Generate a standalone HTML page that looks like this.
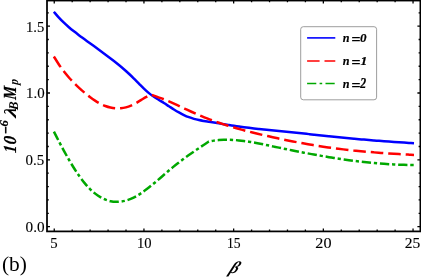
<!DOCTYPE html>
<html><head><meta charset="utf-8"><title>plot</title>
<style>
html,body{margin:0;padding:0;background:#fff;}
body{width:421px;height:278px;overflow:hidden;}
svg{display:block;font-family:"Liberation Serif",serif;will-change:transform;}
</style></head><body>
<svg width="421" height="278" viewBox="0 0 421 278">
<rect width="421" height="278" fill="#fff"/>
<g fill="none" stroke-width="2.5" stroke-linecap="butt" stroke-linejoin="round">
<path d="M53.90 11.80 C54.73 12.77 57.23 15.80 58.90 17.62 C60.57 19.44 62.24 21.11 63.90 22.71 C65.57 24.32 67.24 25.79 68.90 27.23 C70.57 28.66 72.24 30.00 73.91 31.31 C75.57 32.63 77.24 33.88 78.91 35.13 C80.57 36.38 82.24 37.60 83.91 38.83 C85.58 40.05 87.24 41.26 88.91 42.47 C90.58 43.68 92.24 44.88 93.91 46.09 C95.58 47.30 97.25 48.51 98.91 49.73 C100.58 50.95 102.25 52.17 103.91 53.41 C105.58 54.65 107.25 55.90 108.92 57.17 C110.58 58.44 112.25 59.73 113.92 61.04 C115.58 62.36 117.25 63.70 118.92 65.07 C120.59 66.45 122.25 67.85 123.92 69.30 C125.59 70.75 127.25 72.23 128.92 73.77 C130.59 75.31 132.26 76.89 133.92 78.52 C135.59 80.15 137.26 81.89 138.92 83.56 C140.59 85.24 142.26 86.99 143.93 88.58 C145.59 90.18 147.26 91.76 148.93 93.13 C150.59 94.51 152.26 95.70 153.93 96.84 C155.59 97.97 157.26 98.92 158.93 99.95 C160.60 100.98 162.26 101.97 163.93 103.02 C165.60 104.07 167.26 105.18 168.93 106.26 C170.60 107.33 172.27 108.44 173.93 109.47 C175.60 110.50 177.27 111.51 178.93 112.44 C180.60 113.37 182.27 114.25 183.94 115.04 C185.60 115.84 187.27 116.57 188.94 117.20 C190.60 117.84 192.27 118.37 193.94 118.85 C195.61 119.33 197.27 119.72 198.94 120.08 C200.61 120.44 202.27 120.72 203.94 121.01 C205.61 121.30 207.28 121.54 208.94 121.80 C210.61 122.07 212.28 122.32 213.94 122.58 C215.61 122.84 217.28 123.11 218.95 123.38 C220.61 123.64 222.28 123.91 223.95 124.18 C225.61 124.44 227.28 124.71 228.95 124.97 C230.62 125.23 232.28 125.49 233.95 125.74 C235.62 125.99 237.28 126.24 238.95 126.48 C240.62 126.72 242.29 126.95 243.95 127.17 C245.62 127.39 247.29 127.61 248.95 127.81 C250.62 128.02 252.29 128.22 253.96 128.42 C255.62 128.62 257.29 128.81 258.96 128.99 C260.62 129.18 262.29 129.36 263.96 129.54 C265.63 129.72 267.29 129.89 268.96 130.06 C270.63 130.23 272.29 130.40 273.96 130.57 C275.63 130.74 277.30 130.90 278.96 131.07 C280.63 131.24 282.30 131.40 283.96 131.57 C285.63 131.73 287.30 131.90 288.97 132.06 C290.63 132.23 292.30 132.40 293.97 132.57 C295.63 132.74 297.30 132.91 298.97 133.08 C300.64 133.26 302.30 133.43 303.97 133.60 C305.64 133.78 307.30 133.95 308.97 134.13 C310.64 134.30 312.31 134.48 313.97 134.66 C315.64 134.83 317.31 135.01 318.97 135.18 C320.64 135.36 322.31 135.53 323.98 135.71 C325.64 135.88 327.31 136.06 328.98 136.23 C330.64 136.40 332.31 136.57 333.98 136.74 C335.64 136.91 337.31 137.08 338.98 137.25 C340.65 137.42 342.31 137.58 343.98 137.75 C345.65 137.91 347.31 138.07 348.98 138.23 C350.65 138.39 352.32 138.55 353.98 138.70 C355.65 138.85 357.32 139.01 358.98 139.16 C360.65 139.31 362.32 139.45 363.99 139.60 C365.65 139.74 367.32 139.88 368.99 140.02 C370.65 140.16 372.32 140.30 373.99 140.43 C375.66 140.57 377.32 140.70 378.99 140.83 C380.66 140.96 382.32 141.09 383.99 141.21 C385.66 141.34 387.33 141.46 388.99 141.58 C390.66 141.70 392.33 141.82 393.99 141.93 C395.66 142.05 397.33 142.16 399.00 142.27 C400.66 142.38 402.33 142.49 404.00 142.59 C405.66 142.70 407.33 142.80 409.00 142.90 C410.67 143.00 413.17 143.15 414.00 143.20" stroke="#0000ff"/>
<path d="M53.90 56.50 C54.76 57.87 57.33 62.18 59.04 64.73 C60.76 67.28 62.47 69.61 64.18 71.82 C65.90 74.03 67.61 76.04 69.33 77.97 C71.04 79.90 72.75 81.68 74.47 83.40 C76.18 85.12 77.90 86.73 79.61 88.30 C81.32 89.87 83.04 91.39 84.75 92.84 C86.47 94.29 88.18 95.69 89.89 96.98 C91.61 98.28 93.32 99.51 95.04 100.63 C96.75 101.74 98.46 102.77 100.18 103.67 C101.89 104.57 103.61 105.36 105.32 106.01 C107.04 106.66 108.75 107.19 110.46 107.58 C112.18 107.97 113.89 108.24 115.61 108.36 C117.32 108.48 119.03 108.47 120.75 108.31 C122.46 108.15 124.18 107.86 125.89 107.41 C127.60 106.96 129.32 106.37 131.03 105.63 C132.75 104.90 134.46 103.96 136.17 103.00 C137.89 102.04 139.60 100.89 141.32 99.87 C143.03 98.85 144.74 97.71 146.46 96.88 C148.17 96.04 150.74 95.22 151.60 94.89 C152.44 95.18 154.96 95.97 156.65 96.56 C158.33 97.15 160.01 97.78 161.69 98.44 C163.37 99.09 165.06 99.79 166.74 100.49 C168.42 101.20 170.10 101.94 171.78 102.69 C173.47 103.44 175.15 104.21 176.83 104.98 C178.51 105.75 180.19 106.54 181.88 107.32 C183.56 108.10 185.24 108.89 186.92 109.67 C188.61 110.45 190.29 111.24 191.97 112.00 C193.65 112.77 195.33 113.53 197.02 114.26 C198.70 115.00 200.38 115.73 202.06 116.43 C203.74 117.13 205.43 117.80 207.11 118.46 C208.79 119.12 210.47 119.76 212.15 120.38 C213.84 121.01 215.52 121.61 217.20 122.20 C218.88 122.78 220.56 123.35 222.25 123.91 C223.93 124.46 225.61 125.00 227.29 125.53 C228.97 126.05 230.66 126.56 232.34 127.06 C234.02 127.56 235.70 128.04 237.38 128.52 C239.07 128.99 240.75 129.45 242.43 129.90 C244.11 130.36 245.79 130.80 247.48 131.23 C249.16 131.66 250.84 132.09 252.52 132.51 C254.21 132.92 255.89 133.33 257.57 133.74 C259.25 134.14 260.93 134.54 262.62 134.93 C264.30 135.32 265.98 135.71 267.66 136.09 C269.34 136.48 271.03 136.85 272.71 137.23 C274.39 137.60 276.07 137.97 277.75 138.33 C279.44 138.69 281.12 139.05 282.80 139.40 C284.48 139.75 286.16 140.10 287.85 140.44 C289.53 140.78 291.21 141.11 292.89 141.44 C294.57 141.77 296.26 142.09 297.94 142.41 C299.62 142.73 301.30 143.04 302.98 143.34 C304.67 143.65 306.35 143.95 308.03 144.24 C309.71 144.53 311.39 144.82 313.08 145.10 C314.76 145.37 316.44 145.65 318.12 145.91 C319.81 146.18 321.49 146.44 323.17 146.69 C324.85 146.94 326.53 147.19 328.22 147.43 C329.90 147.66 331.58 147.89 333.26 148.12 C334.94 148.34 336.63 148.56 338.31 148.77 C339.99 148.98 341.67 149.19 343.35 149.38 C345.04 149.58 346.72 149.77 348.40 149.96 C350.08 150.15 351.76 150.33 353.45 150.50 C355.13 150.67 356.81 150.84 358.49 151.01 C360.17 151.17 361.86 151.33 363.54 151.48 C365.22 151.64 366.90 151.78 368.58 151.93 C370.27 152.07 371.95 152.21 373.63 152.34 C375.31 152.48 376.99 152.61 378.68 152.74 C380.36 152.86 382.04 152.98 383.72 153.10 C385.41 153.22 387.09 153.34 388.77 153.45 C390.45 153.56 392.13 153.67 393.82 153.77 C395.50 153.88 397.18 153.98 398.86 154.08 C400.54 154.18 402.23 154.27 403.91 154.36 C405.59 154.46 407.27 154.55 408.95 154.64 C410.64 154.73 413.16 154.86 414.00 154.90" stroke="#ff0000" stroke-dasharray="12.55 4.95"/>
<path d="M53.90 131.58 C54.76 133.25 57.34 138.34 59.06 141.64 C60.78 144.93 62.51 148.18 64.23 151.33 C65.95 154.47 67.67 157.56 69.39 160.50 C71.11 163.45 72.83 166.31 74.55 169.01 C76.27 171.71 78.00 174.30 79.72 176.70 C81.44 179.10 83.16 181.36 84.88 183.42 C86.60 185.48 88.32 187.36 90.04 189.06 C91.76 190.75 93.49 192.26 95.21 193.61 C96.93 194.95 98.65 196.12 100.37 197.12 C102.09 198.13 103.81 198.96 105.53 199.63 C107.25 200.31 108.98 200.82 110.70 201.19 C112.42 201.56 114.14 201.76 115.86 201.83 C117.58 201.89 119.30 201.81 121.02 201.59 C122.74 201.37 124.47 201.01 126.19 200.52 C127.91 200.03 129.63 199.39 131.35 198.65 C133.07 197.90 134.79 197.02 136.51 196.04 C138.23 195.07 139.96 193.98 141.68 192.82 C143.40 191.66 145.12 190.40 146.84 189.10 C148.56 187.79 150.28 186.41 152.00 185.00 C153.72 183.59 155.45 182.13 157.17 180.66 C158.89 179.19 160.61 177.68 162.33 176.19 C164.05 174.71 165.77 173.20 167.49 171.73 C169.21 170.27 170.94 168.81 172.66 167.40 C174.38 165.99 176.10 164.62 177.82 163.28 C179.54 161.94 181.26 160.64 182.98 159.35 C184.70 158.07 186.43 156.82 188.15 155.58 C189.87 154.35 191.59 153.14 193.31 151.95 C195.03 150.75 196.75 149.58 198.47 148.41 C200.19 147.24 201.92 146.09 203.64 144.94 C205.36 143.80 207.94 142.09 208.80 141.52 C209.63 141.33 212.14 140.85 213.80 140.62 C215.47 140.38 217.14 140.20 218.81 140.06 C220.48 139.92 222.15 139.84 223.81 139.79 C225.48 139.74 227.15 139.74 228.82 139.77 C230.49 139.80 232.16 139.87 233.82 139.98 C235.49 140.08 237.16 140.22 238.83 140.39 C240.50 140.55 242.17 140.75 243.83 140.97 C245.50 141.19 247.17 141.43 248.84 141.70 C250.51 141.96 252.18 142.25 253.84 142.55 C255.51 142.84 257.18 143.16 258.85 143.49 C260.52 143.81 262.19 144.15 263.85 144.49 C265.52 144.84 267.19 145.19 268.86 145.54 C270.53 145.89 272.20 146.25 273.86 146.60 C275.53 146.95 277.20 147.30 278.87 147.65 C280.54 148.00 282.20 148.34 283.87 148.68 C285.54 149.03 287.21 149.37 288.88 149.71 C290.55 150.05 292.21 150.38 293.88 150.71 C295.55 151.05 297.22 151.38 298.89 151.70 C300.56 152.03 302.22 152.35 303.89 152.67 C305.56 152.99 307.23 153.31 308.90 153.62 C310.57 153.93 312.23 154.24 313.90 154.54 C315.57 154.85 317.24 155.14 318.91 155.44 C320.58 155.73 322.24 156.02 323.91 156.31 C325.58 156.59 327.25 156.87 328.92 157.15 C330.59 157.42 332.25 157.69 333.92 157.96 C335.59 158.22 337.26 158.48 338.93 158.73 C340.60 158.98 342.26 159.23 343.93 159.47 C345.60 159.71 347.27 159.94 348.94 160.17 C350.60 160.40 352.27 160.62 353.94 160.83 C355.61 161.04 357.28 161.25 358.95 161.45 C360.61 161.65 362.28 161.84 363.95 162.03 C365.62 162.21 367.29 162.39 368.96 162.56 C370.62 162.73 372.29 162.89 373.96 163.04 C375.63 163.19 377.30 163.34 378.97 163.48 C380.63 163.61 382.30 163.74 383.97 163.86 C385.64 163.98 387.31 164.09 388.98 164.19 C390.64 164.29 392.31 164.38 393.98 164.46 C395.65 164.55 397.32 164.62 398.99 164.68 C400.65 164.74 402.32 164.80 403.99 164.84 C405.66 164.88 407.33 164.92 409.00 164.94 C410.66 164.96 413.17 164.97 414.00 164.97" stroke="#00a800" stroke-dasharray="9.3 2.85 3.25 2.85"/>
</g>
<rect x="47.0" y="0.55" width="373.4" height="230.85" fill="none" stroke="#000" stroke-width="1.75"/>
<path d="M54.25 231.4 v-3.0 M54.25 0.55 v3.0 M72.19 231.4 v-1.8 M72.19 0.55 v1.8 M90.13 231.4 v-1.8 M90.13 0.55 v1.8 M108.07 231.4 v-1.8 M108.07 0.55 v1.8 M126.01 231.4 v-1.8 M126.01 0.55 v1.8 M143.95 231.4 v-3.0 M143.95 0.55 v3.0 M161.89 231.4 v-1.8 M161.89 0.55 v1.8 M179.83 231.4 v-1.8 M179.83 0.55 v1.8 M197.77 231.4 v-1.8 M197.77 0.55 v1.8 M215.71 231.4 v-1.8 M215.71 0.55 v1.8 M233.65 231.4 v-3.0 M233.65 0.55 v3.0 M251.59 231.4 v-1.8 M251.59 0.55 v1.8 M269.53 231.4 v-1.8 M269.53 0.55 v1.8 M287.47 231.4 v-1.8 M287.47 0.55 v1.8 M305.41 231.4 v-1.8 M305.41 0.55 v1.8 M323.35 231.4 v-3.0 M323.35 0.55 v3.0 M341.29 231.4 v-1.8 M341.29 0.55 v1.8 M359.23 231.4 v-1.8 M359.23 0.55 v1.8 M377.17 231.4 v-1.8 M377.17 0.55 v1.8 M395.11 231.4 v-1.8 M395.11 0.55 v1.8 M413.05 231.4 v-3.0 M413.05 0.55 v3.0 M47.0 226.70 h3.0 M420.4 226.70 h-3.0 M47.0 213.33 h1.8 M420.4 213.33 h-1.8 M47.0 199.96 h1.8 M420.4 199.96 h-1.8 M47.0 186.59 h1.8 M420.4 186.59 h-1.8 M47.0 173.22 h1.8 M420.4 173.22 h-1.8 M47.0 159.85 h3.0 M420.4 159.85 h-3.0 M47.0 146.48 h1.8 M420.4 146.48 h-1.8 M47.0 133.11 h1.8 M420.4 133.11 h-1.8 M47.0 119.74 h1.8 M420.4 119.74 h-1.8 M47.0 106.37 h1.8 M420.4 106.37 h-1.8 M47.0 93.00 h3.0 M420.4 93.00 h-3.0 M47.0 79.63 h1.8 M420.4 79.63 h-1.8 M47.0 66.26 h1.8 M420.4 66.26 h-1.8 M47.0 52.89 h1.8 M420.4 52.89 h-1.8 M47.0 39.52 h1.8 M420.4 39.52 h-1.8 M47.0 26.15 h3.0 M420.4 26.15 h-3.0 M47.0 12.78 h1.8 M420.4 12.78 h-1.8" stroke="#000" stroke-width="1.3" fill="none"/>
<g transform="matrix(0.9219 0 0 0.9774 50.315 248.444)"><text font-size="16" style="font-weight:normal;font-style:normal" fill="#000" stroke="#000" stroke-width="0.12">5</text></g><g transform="matrix(0.9124 0 0 0.9630 136.886 248.446)"><text font-size="16" style="font-weight:normal;font-style:normal" fill="#000" stroke="#000" stroke-width="0.12">10</text></g><g transform="matrix(0.8549 0 0 0.9774 226.969 248.444)"><text font-size="16" style="font-weight:normal;font-style:normal" fill="#000" stroke="#000" stroke-width="0.12">15</text></g><g transform="matrix(1.0109 0 0 0.9630 315.372 248.446)"><text font-size="16" style="font-weight:normal;font-style:normal" fill="#000" stroke="#000" stroke-width="0.12">20</text></g><g transform="matrix(0.9699 0 0 0.9701 404.702 248.445)"><text font-size="16" style="font-weight:normal;font-style:normal" fill="#000" stroke="#000" stroke-width="0.12">25</text></g><g transform="matrix(0.9509 0 0 0.9559 25.591 232.171)"><text font-size="16" style="font-weight:normal;font-style:normal" fill="#000" stroke="#000" stroke-width="0.12">0.0</text></g><g transform="matrix(0.9348 0 0 0.9559 25.602 165.321)"><text font-size="16" style="font-weight:normal;font-style:normal" fill="#000" stroke="#000" stroke-width="0.12">0.5</text></g><g transform="matrix(0.9291 0 0 0.9559 26.012 98.471)"><text font-size="16" style="font-weight:normal;font-style:normal" fill="#000" stroke="#000" stroke-width="0.12">1.0</text></g><g transform="matrix(0.9124 0 0 0.9701 26.036 31.617)"><text font-size="16" style="font-weight:normal;font-style:normal" fill="#000" stroke="#000" stroke-width="0.12">1.5</text></g>
<rect x="300.7" y="26.7" width="75.9" height="73.1" rx="2.6" ry="2.6" fill="#fff" stroke="#8c8c8c" stroke-width="0.85"/>
<g fill="none" stroke-width="1.6">
<path d="M307.1 37.9 H335.3" stroke="#0000ff"/>
<path d="M307.1 61 H335.3" stroke="#ff0000" stroke-dasharray="12.5 4.9"/>
<path d="M307.1 83.5 H335.3" stroke="#00a800" stroke-dasharray="9.2 3.3 2.6 3.3"/>
</g>
<g transform="matrix(0.8689 0 0 0.9119 342.757 41.900)"><text font-size="14" style="font-weight:bold;font-style:italic" fill="#000" stroke="#000" stroke-width="0.2">n</text></g><g transform="matrix(1.1646 0 0 1.0847 351.322 43.861)"><text font-size="14" style="font-weight:bold;font-style:italic" fill="#000" stroke="#000" stroke-width="0.2">=</text></g><g transform="matrix(0.9310 0 0 0.9630 360.044 42.165)"><text font-size="14" style="font-weight:bold;font-style:italic" fill="#000" stroke="#000" stroke-width="0.25">0</text></g><g transform="matrix(0.8689 0 0 0.9119 342.757 64.950)"><text font-size="14" style="font-weight:bold;font-style:italic" fill="#000" stroke="#000" stroke-width="0.2">n</text></g><g transform="matrix(1.1646 0 0 1.0847 351.322 66.911)"><text font-size="14" style="font-weight:bold;font-style:italic" fill="#000" stroke="#000" stroke-width="0.2">=</text></g><g transform="matrix(0.9714 0 0 0.9433 360.460 65.050)"><text font-size="14" style="font-weight:bold;font-style:italic" fill="#000" stroke="#000" stroke-width="0.25">1</text></g><g transform="matrix(0.8689 0 0 0.9119 342.757 87.950)"><text font-size="14" style="font-weight:bold;font-style:italic" fill="#000" stroke="#000" stroke-width="0.2">n</text></g><g transform="matrix(1.1646 0 0 1.0847 351.322 89.911)"><text font-size="14" style="font-weight:bold;font-style:italic" fill="#000" stroke="#000" stroke-width="0.2">=</text></g><g transform="matrix(0.8395 0 0 0.9686 360.318 88.350)"><text font-size="14" style="font-weight:bold;font-style:italic" fill="#000" stroke="#000" stroke-width="0.25">2</text></g>
<g transform="matrix(0.9488 0 0 0.9229 228.249 272.911)"><text transform="skewX(-24)" font-size="18" style="font-weight:bold;font-style:italic" fill="#000">β</text></g>
<g transform="translate(15.8 152.9) rotate(-90)"><g transform="matrix(0.8656 0 0 1.0185 -0.340 -0.050)"><text transform="skewX(-6)" font-size="18" style="font-weight:bold;font-style:italic" fill="#000" stroke="#000" stroke-width="0.15">1</text></g><g transform="matrix(0.9028 0 0 1.0123 8.256 -0.032)"><text transform="skewX(-6)" font-size="18" style="font-weight:bold;font-style:italic" fill="#000" stroke="#000" stroke-width="0.15">0</text></g><g transform="matrix(1.0422 0 0 1.4286 18.566 -4.271)"><text font-size="13" style="font-weight:bold;font-style:italic" fill="#000" stroke="#000" stroke-width="0.15">−</text></g><g transform="matrix(0.9760 0 0 0.9644 26.506 -7.475)"><text font-size="13" style="font-weight:bold;font-style:italic" fill="#000" stroke="#000" stroke-width="0.15">6</text></g><g transform="matrix(1.2332 0 0 0.9456 34.877 -0.100)"><text transform="skewX(-10)" font-size="18" style="font-weight:bold;font-style:italic" fill="#000">λ</text></g><g transform="matrix(0.9519 0 0 1.0335 42.674 2.550)"><text transform="skewX(-6)" font-size="13" style="font-weight:bold;font-style:italic" fill="#000">B</text></g><g transform="matrix(0.8319 0 0 1.0263 52.800 -0.050)"><text transform="skewX(-6)" font-size="18" style="font-weight:bold;font-style:italic" fill="#000" stroke="#000" stroke-width="0.15">M</text></g><g transform="matrix(0.8662 0 0 0.9842 67.813 2.313)"><text transform="skewX(-6)" font-size="13" style="font-weight:bold;font-style:italic" fill="#000">p</text></g></g>
<g transform="matrix(0.9725 0 0 0.9874 1.937 270.988)"><text font-size="22" style="font-weight:normal;font-style:normal" fill="#000">(b)</text></g>
</svg>
</body></html>
